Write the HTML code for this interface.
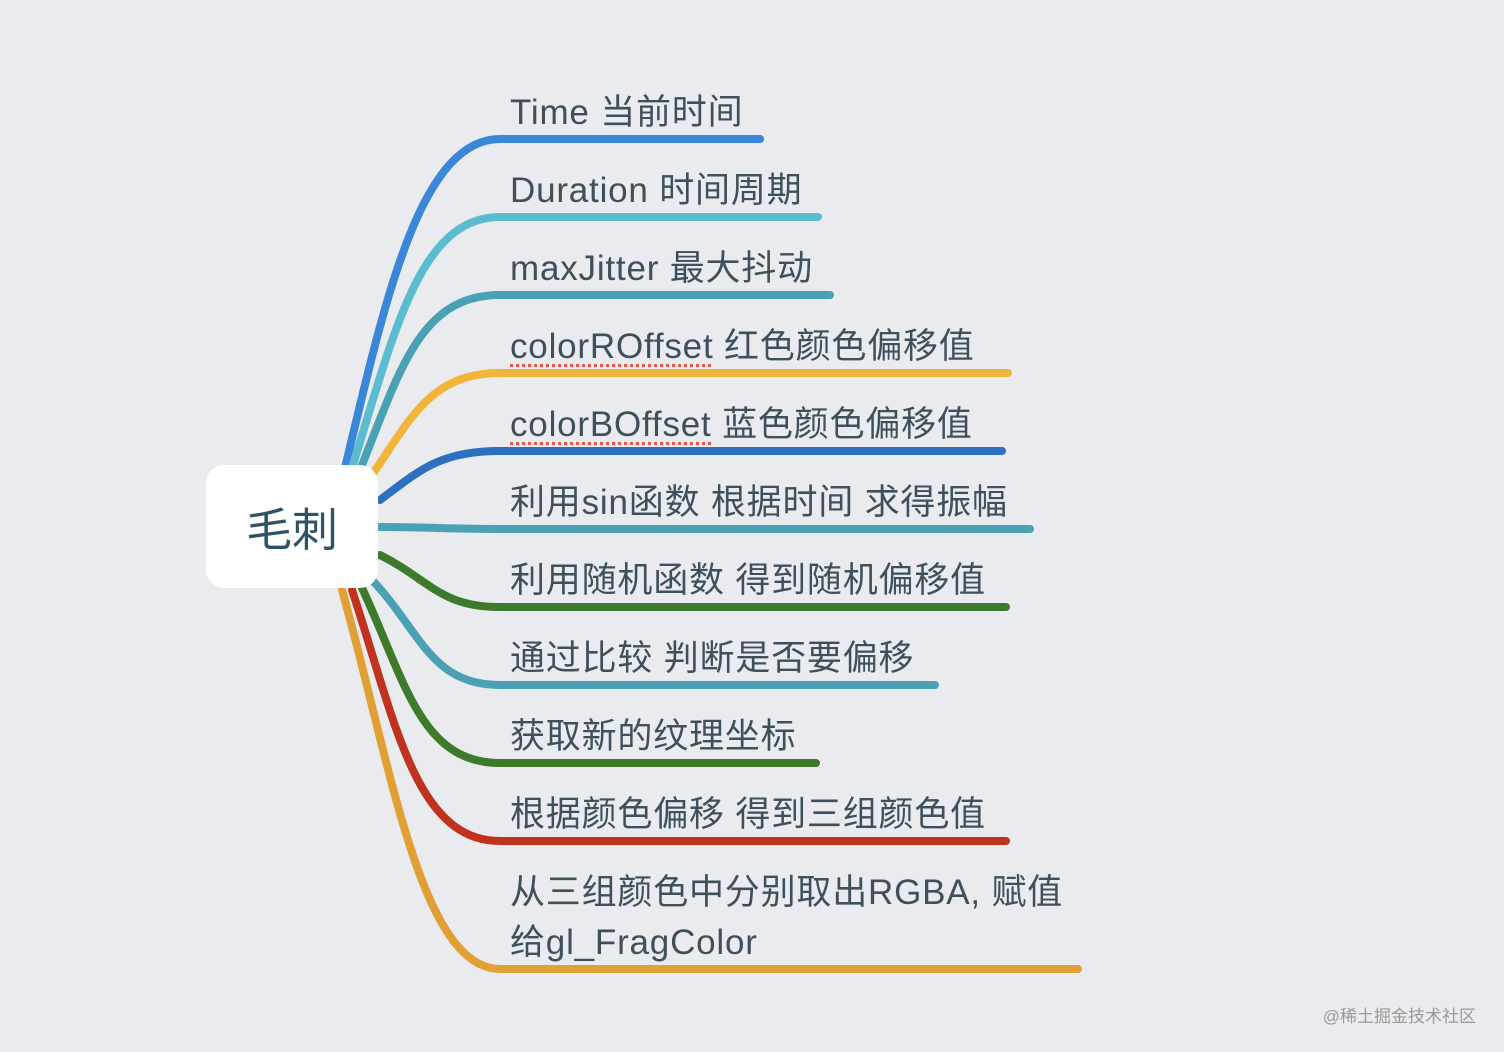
<!DOCTYPE html>
<html><head><meta charset="utf-8"><style>
html,body{margin:0;padding:0;}
body{width:1504px;height:1052px;background:#e9ebee;position:relative;overflow:hidden;font-family:"Liberation Sans","Noto Sans CJK SC",sans-serif;}
.t{position:absolute;left:510px;font-size:35px;letter-spacing:0.8px;color:#3f505c;white-space:nowrap;line-height:40px;}
.u{text-decoration:underline dotted #e8574a;text-underline-offset:6px;text-decoration-thickness:3px;}
#node{position:absolute;left:206px;top:465px;width:172px;height:123px;background:#fff;border-radius:18px;display:flex;align-items:center;justify-content:center;font-size:46px;color:#2f5366;}
#wm{position:absolute;right:28px;top:1002px;font-size:17px;color:#999;}
</style></head><body>
<svg width="1504" height="1052" style="position:absolute;left:0;top:0" fill="none" stroke-width="8" stroke-linecap="round">
<path d="M345 468 C385 300 420 139 500 139 L760 139" stroke="#3a86d8"/>
<path d="M352 468 C395 330 420 217 500 217 L818 217" stroke="#5bbcd0"/>
<path d="M360 470 C400 370 420 295 500 295 L830 295" stroke="#4aa0b5"/>
<path d="M372 475 C410 420 430 373 500 373 L1008 373" stroke="#f2b53a"/>
<path d="M380 500 C420 470 440 451 500 451 L1002 451" stroke="#2d6fc0"/>
<path d="M380 527 C430 527 440 529 500 529 L1030 529" stroke="#4aa0b5"/>
<path d="M380 555 C430 580 440 607 500 607 L1006 607" stroke="#3d7a2c"/>
<path d="M372 580 C420 630 430 685 500 685 L935 685" stroke="#4aa0b5"/>
<path d="M362 588 C405 680 420 763 500 763 L816 763" stroke="#3d7a2c"/>
<path d="M352 590 C395 720 415 841 500 841 L1006 841" stroke="#c0321e"/>
<path d="M342 590 C390 760 420 969 500 969 L1078 969" stroke="#e0a035"/>
</svg>
<div id="node">毛刺</div>
<div class="t" style="top:93px">Time 当前时间</div>
<div class="t" style="top:171px">Duration 时间周期</div>
<div class="t" style="top:249px">maxJitter 最大抖动</div>
<div class="t" style="top:327px"><span class="u">colorROffset</span> 红色颜色偏移值</div>
<div class="t" style="top:405px"><span class="u">colorBOffset</span> 蓝色颜色偏移值</div>
<div class="t" style="top:483px">利用sin函数 根据时间 求得振幅</div>
<div class="t" style="top:561px">利用随机函数 得到随机偏移值</div>
<div class="t" style="top:639px">通过比较 判断是否要偏移</div>
<div class="t" style="top:717px">获取新的纹理坐标</div>
<div class="t" style="top:795px">根据颜色偏移 得到三组颜色值</div>
<div class="t" style="top:873px">从三组颜色中分别取出RGBA, 赋值</div>
<div class="t" style="top:923px">给gl_FragColor</div>
<div id="wm">@稀土掘金技术社区</div>
</body></html>
